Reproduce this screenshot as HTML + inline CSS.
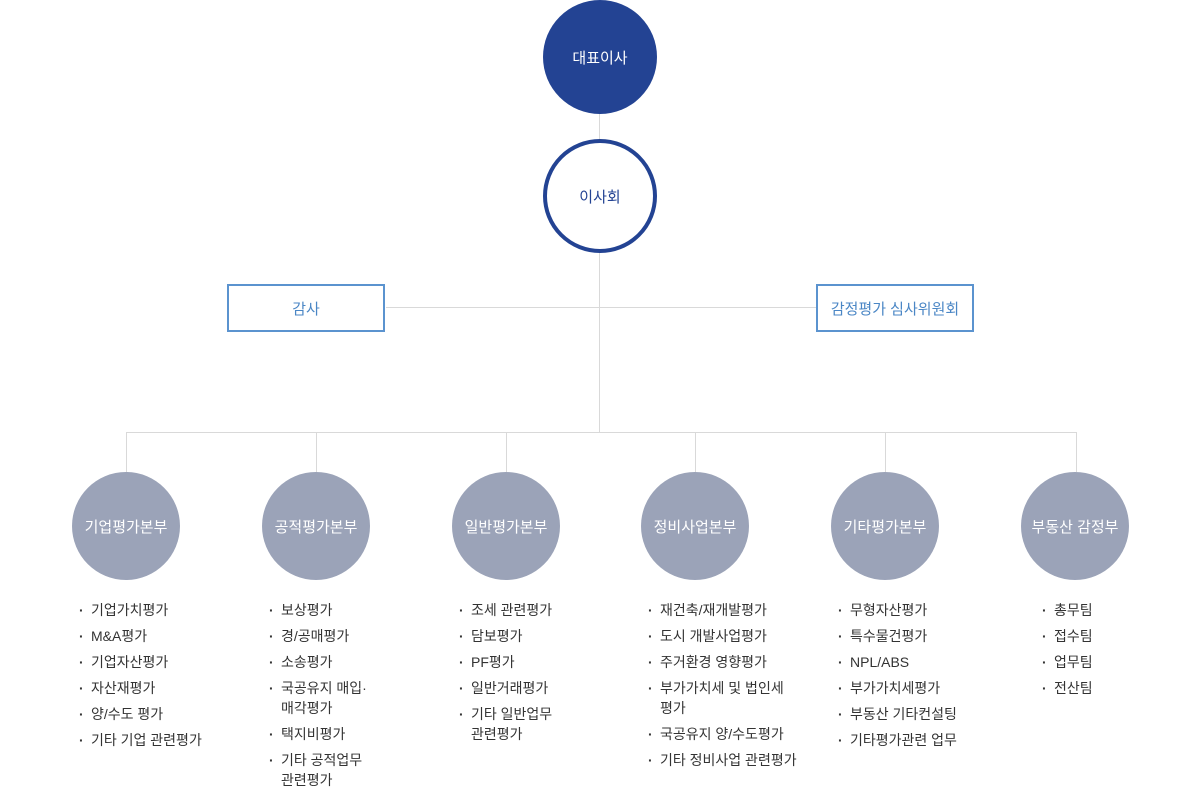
<!DOCTYPE html>
<html><head><meta charset="utf-8"><style>
body{margin:0;width:1200px;height:791px;background:#fff;position:relative;overflow:hidden;font-family:"Liberation Sans","Noto Sans CJK KR",sans-serif;}
.a{position:absolute;}
.ln{position:absolute;background:#d9d9d9;}
.c{position:absolute;border-radius:50%;display:flex;align-items:center;justify-content:center;font-size:15px;color:#fff;box-sizing:border-box;}
.g{width:108px;height:108px;top:472px;background:#9ba3b8;}
.box{position:absolute;width:158px;height:48px;top:284px;border:2px solid #5b93cf;box-sizing:border-box;color:#4a86c5;font-size:15px;display:flex;align-items:center;justify-content:center;background:#fff;}
ul{position:absolute;top:600px;margin:0;padding:0;list-style:none;font-size:14px;color:#333;line-height:20px;}
li{position:relative;padding-left:12px;margin-bottom:6px;}
li:before{content:"·";position:absolute;left:0;top:0;font-weight:bold;}
</style></head><body>
<div class="ln" style="left:599px;top:112px;width:1px;height:320px"></div>
<div class="ln" style="left:386px;top:307px;width:430px;height:1px"></div>
<div class="ln" style="left:126px;top:432px;width:951px;height:1px"></div>
<div class="ln" style="left:126px;top:432px;width:1px;height:40px"></div>
<div class="ln" style="left:316px;top:432px;width:1px;height:40px"></div>
<div class="ln" style="left:506px;top:432px;width:1px;height:40px"></div>
<div class="ln" style="left:695px;top:432px;width:1px;height:40px"></div>
<div class="ln" style="left:885px;top:432px;width:1px;height:40px"></div>
<div class="ln" style="left:1076px;top:432px;width:1px;height:40px"></div>
<div class="c" style="left:543px;top:0;width:114px;height:114px;background:#234393">대표이사</div>
<div class="c" style="left:543px;top:139px;width:114px;height:114px;background:#fff;border:4px solid #234393;color:#234393">이사회</div>
<div class="box" style="left:227px">감사</div>
<div class="box" style="left:816px">감정평가 심사위원회</div>
<div class="c g" style="left:72px">기업평가본부</div>
<div class="c g" style="left:262px">공적평가본부</div>
<div class="c g" style="left:452px">일반평가본부</div>
<div class="c g" style="left:641px">정비사업본부</div>
<div class="c g" style="left:831px">기타평가본부</div>
<div class="c g" style="left:1021px">부동산 감정부</div>
<ul style="left:79px"><li>기업가치평가</li><li>M&amp;A평가</li><li>기업자산평가</li><li>자산재평가</li><li>양/수도 평가</li><li>기타 기업 관련평가</li></ul>
<ul style="left:269px"><li>보상평가</li><li>경/공매평가</li><li>소송평가</li><li>국공유지 매입·<br>매각평가</li><li>택지비평가</li><li>기타 공적업무<br>관련평가</li></ul>
<ul style="left:459px"><li>조세 관련평가</li><li>담보평가</li><li>PF평가</li><li>일반거래평가</li><li>기타 일반업무<br>관련평가</li></ul>
<ul style="left:648px"><li>재건축/재개발평가</li><li>도시 개발사업평가</li><li>주거환경 영향평가</li><li>부가가치세 및 법인세<br>평가</li><li>국공유지 양/수도평가</li><li>기타 정비사업 관련평가</li></ul>
<ul style="left:838px"><li>무형자산평가</li><li>특수물건평가</li><li>NPL/ABS</li><li>부가가치세평가</li><li>부동산 기타컨설팅</li><li>기타평가관련 업무</li></ul>
<ul style="left:1042px"><li>총무팀</li><li>접수팀</li><li>업무팀</li><li>전산팀</li></ul>
</body></html>
